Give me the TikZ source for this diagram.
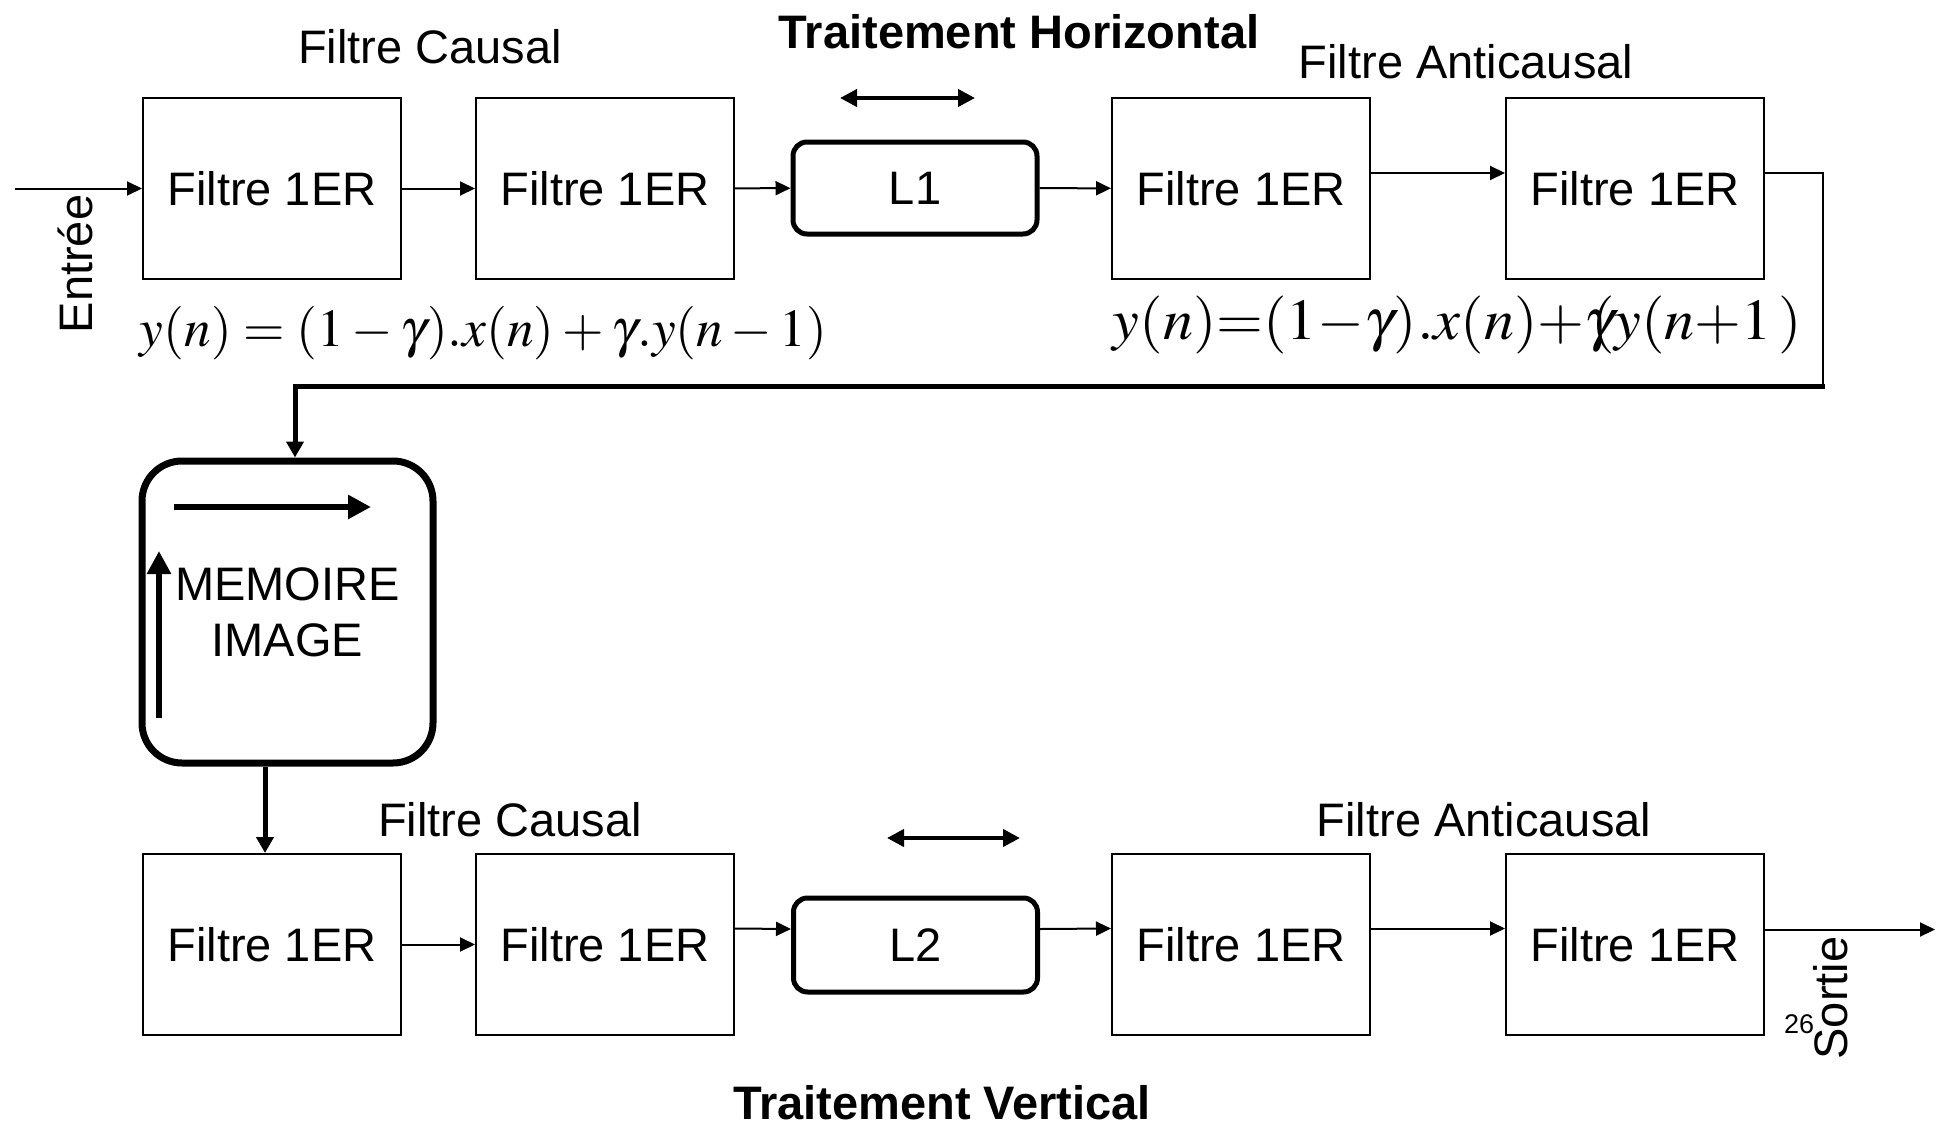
\documentclass[tikz,border=0pt]{standalone}
\usepackage{mathptmx}
\usepackage[no-math]{fontspec}
\setmainfont{Liberation Sans}
\usetikzlibrary{arrows.meta}

\tikzset{
  txt/.style={font=\fontsize{47}{56}\selectfont, inner sep=0pt},
  head/.style={font=\fontsize{47}{56}\selectfont\bfseries, inner sep=0pt},
  filt/.style={draw, line width=2pt, minimum width=258pt, minimum height=181pt,
    inner sep=0pt, font=\fontsize{47}{56}\selectfont},
  delay/.style={draw, line width=5pt, rounded corners=14pt, minimum width=244pt,
    minimum height=92pt, inner sep=0pt, font=\fontsize{47}{56}\selectfont},
  mem/.style={draw, line width=7pt, rounded corners=40pt, minimum width=291pt,
    minimum height=302pt, inner sep=0pt, align=center, font=\fontsize{47}{56}\selectfont},
  arr/.style={line width=2pt, -{Triangle[length=15pt,width=14pt]}},
  bigarr/.style={line width=5pt, miter limit=10, -{Triangle[length=16pt,width=17pt]}},
  dbl/.style={line width=4pt, {Triangle[length=17pt,width=17pt]}-{Triangle[length=17pt,width=17pt]}},
  scan/.style={line width=6.5pt, -{Triangle[length=23pt,width=23pt]}},
  eq/.style={inner sep=0pt}
}

\begin{document}
\begin{tikzpicture}[x=1pt,y=-1pt]
\useasboundingbox (0,0) rectangle (1939,1124);

% horizontal pass
\node[filt] (b1) at (272,188.5) {Filtre 1ER};
\node[filt] (b2) at (605,188.5) {Filtre 1ER};
\node[delay] (l1) at (915,188) {L1};
\node[filt] (b3) at (1241,188.5) {Filtre 1ER};
\node[filt] (b4) at (1635,188.5) {Filtre 1ER};

% vertical pass
\node[filt] (c1) at (272,944.5) {Filtre 1ER};
\node[filt] (c2) at (605,944.5) {Filtre 1ER};
\node[delay, minimum height=94pt] (l2) at (915.5,945) {L2};
\node[filt] (c3) at (1241,944.5) {Filtre 1ER};
\node[filt] (c4) at (1635,944.5) {Filtre 1ER};

% image memory
\node[mem] (m) at (287.5,612) {MEMOIRE\\IMAGE};

% labels
\node[txt, anchor=base] (lcausal1) at (430,64) {Filtre Causal};
\node[head, anchor=base] (th) at (1019,49) {Traitement Horizontal};
\node[txt, anchor=base] (lanti1) at (1466,79) {Filtre Anticausal};
\node[txt, anchor=base] (lcausal2) at (510,836) {Filtre Causal};
\node[txt, anchor=base] (lanti2) at (1484,836) {Filtre Anticausal};
\node[head, anchor=base] (tv) at (942,1119) {Traitement Vertical};
\node[txt, rotate=90, anchor=base] (ent) at (92,264) {Entrée};
\node[txt, rotate=90, anchor=base] (sor) at (1847,998) {Sortie};
\node[inner sep=0pt, anchor=base, font=\fontsize{27}{30}\selectfont] (pg) at (1799,1033) {26};

% recursions
\node[eq] (eqc) at (483.5,333.5)
  {\resizebox{687pt}{!}{$y(n)=(1-\gamma).x(n)+\gamma.y(n-1)$}};
\node[eq] (eqa) at (1457.5,325)
  {\resizebox*{689pt}{58pt}{$y(n){=}(1{-}\gamma).x(n){+}\gamma\mkern-7mu(y(n{+}1\,)$}};

% connector points
\coordinate (in) at (15,188.5);
\coordinate (fbR) at (1823,386);
\coordinate (fbL) at (295,386);
\coordinate (mo) at ([xshift=-22.5pt]m.south);
\coordinate (out) at (1935,929.5);
\coordinate (h1a) at (840,98);
\coordinate (h1b) at (975,98);
\coordinate (h2a) at (887,838);
\coordinate (h2b) at (1020,838);
\coordinate (sh1) at (174,507);
\coordinate (sh2) at (371,507);
\coordinate (sv1) at (159,718);
\coordinate (sv2) at (159,551);

% horizontal chain
\draw[arr] (in) -- (b1.west);
\draw[arr] (b1) -- (b2);
\draw[arr] (b2) -- (l1);
\draw[arr] (l1) -- (b3);
\draw[arr] ([yshift=15.5pt]b3.east) -- ([yshift=15.5pt]b4.west);

% loop back to the memory
\draw[line width=2pt] ([yshift=15.5pt]b4.east) -| (fbR);
\draw[line width=5pt] ([xshift=2pt]fbR) -- (fbL);
\draw[bigarr] ([yshift=2.5pt]fbL) -- (fbL |- m.north);
\draw[bigarr] (mo) -- (mo |- c1.north);

% vertical chain
\draw[arr] (c1) -- (c2);
\draw[arr] ([yshift=16pt]c2.east) -- ([yshift=16pt]l2.west);
\draw[arr] ([yshift=16pt]l2.east) -- ([yshift=16pt]c3.west);
\draw[arr] ([yshift=16pt]c3.east) -- ([yshift=16pt]c4.west);
\draw[arr] ([yshift=15pt]c4.east) -- (out);

% direction marks
\draw[dbl] (h1a) -- (h1b);
\draw[dbl] (h2a) -- (h2b);
\draw[scan] (sh1) -- (sh2);
\draw[scan] (sv1) -- (sv2);
\end{tikzpicture}
\end{document}
